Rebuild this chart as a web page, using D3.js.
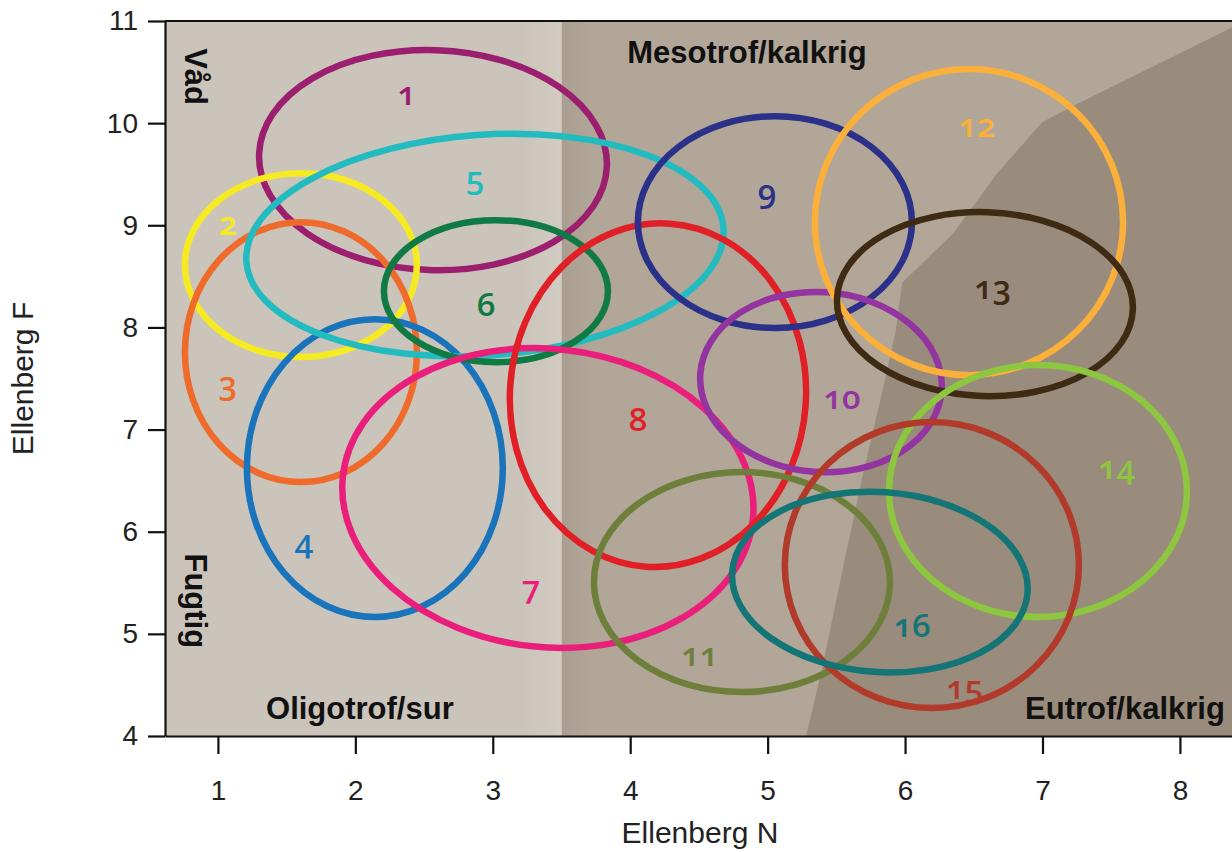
<!DOCTYPE html>
<html>
<head>
<meta charset="utf-8">
<script src="https://cdn.jsdelivr.net/npm/d3@7"></script>
<style>
  html, body { margin: 0; padding: 0; background: #fff; }
  svg { display: block; }
  .tick text { font-family: "Liberation Sans", Arial, sans-serif; font-size: 28px; fill: #222; }
  .zone { font-family: "Liberation Sans", Arial, sans-serif; font-weight: bold; font-size: 31px; fill: #111; }
  .num { font-family: "Open Sans", sans-serif; font-weight: 600; font-size: 33px; font-variant-numeric: oldstyle-nums; }
  .title { font-family: "Liberation Sans", Arial, sans-serif; font-size: 30px; fill: #222; }
</style>
</head>
<body>
<svg id="chart" width="1232" height="852"></svg>
<script>
// ======================================================================
// DATA
// ======================================================================

var ids    = ["1", "2", "3", "4", "5", "6", "7", "8", "9", "10", "11", "12", "13", "14", "15", "16"];
var colors = ["#9b1f6e", "#f6eb22", "#ef6b2b", "#1a74bb", "#22bcc0", "#0f7a43", "#ea1f7c", "#e11f26",
              "#2b3088", "#9334a0", "#6d7f3a", "#fbb03b", "#3f2a14", "#8dc63f", "#b23a2a", "#137576"];

// ellipse centres (Ellenberg N, Ellenberg F), half widths and tilt in degrees
var centreN = [2.565, 1.604, 1.604, 2.142, 2.943, 3.023, 3.401, 4.202, 5.053, 5.388, 4.813, 6.465, 6.581, 6.967, 6.195, 5.817];
var centreF = [9.638, 8.610, 7.758, 6.623, 8.806, 8.355, 6.330, 7.337, 9.031, 7.465, 5.507, 9.031, 8.228, 6.398, 5.673, 5.507];
var spreadN = [1.266, 0.844, 0.844, 0.931, 1.740, 0.815, 1.500, 1.077, 0.997, 0.880, 1.077, 1.121, 1.077, 1.084, 1.070, 1.077];
var spreadF = [1.077, 0.900, 1.272, 1.458, 1.080, 0.695, 1.460, 1.683, 1.037, 0.881, 1.077, 1.498, 0.900, 1.233, 1.400, 0.881];
var tilt    = [2, 0, 0, 0, -4, 0, 6, 4, 0, 4, 0, 0, 2, 0, 0, 4];

// where the numbers sit
var labelN = [2.375, 1.073, 1.073, 1.626, 2.870, 2.950, 3.278, 4.056, 4.995, 5.541, 4.507, 6.523, 6.639, 7.541, 6.435, 6.050];
var labelF = [10.303, 9.031, 7.465, 5.918, 9.471, 8.238, 5.468, 7.112, 9.344, 7.328, 4.803, 9.990, 8.404, 6.642, 4.489, 5.096];

// background zones
var mesoStartN = 3.5;
var eutrofN = [5.28, 5.40, 5.55, 5.69, 5.82, 5.93, 5.98, 6.35, 6.67, 7.00, 7.27, 8.40, 8.40];
var eutrofF = [4.00, 4.68, 5.66, 6.54, 7.29, 7.95, 8.44, 8.92, 9.51, 10.01, 10.20, 10.95, 4.00];

var xTicks = [1, 2, 3, 4, 5, 6, 7, 8];
var yTicks = [4, 5, 6, 7, 8, 9, 10, 11];

(function() {
    // ======================================================================
    // SCALES
    // ======================================================================

    var svg = d3.select("#chart");
    var plotLeft = 165, plotTop = 21, plotBottom = 736;
    var x = d3.scaleLinear().domain([0.615, 8.4]).range([plotLeft, plotLeft + 7.785 * 137.43]);
    var y = d3.scaleLinear().domain([4, 11]).range([plotBottom, plotTop]);
    var xMin = x.domain()[0], xMax = x.domain()[1];

    // ======================================================================
    // BACKGROUND
    // ======================================================================

    // soft shading on both sides of the oligotrof / mesotrof border
    var defs = svg.append("defs");
    var lightGrad = defs.append("linearGradient").attr("id", "lightGrad")
        .attr("gradientUnits", "userSpaceOnUse")
        .attr("x1", x(mesoStartN) - 40).attr("x2", x(mesoStartN)).attr("y1", 0).attr("y2", 0);
    lightGrad.append("stop").attr("offset", 0).attr("stop-color", "#cbc4ba");
    lightGrad.append("stop").attr("offset", 1).attr("stop-color", "#d1cbc2");
    var midGrad = defs.append("linearGradient").attr("id", "midGrad")
        .attr("gradientUnits", "userSpaceOnUse")
        .attr("x1", x(mesoStartN)).attr("x2", x(mesoStartN) + 30).attr("y1", 0).attr("y2", 0);
    midGrad.append("stop").attr("offset", 0).attr("stop-color", "#a99e90");
    midGrad.append("stop").attr("offset", 1).attr("stop-color", "#b1a697");

    var bg = svg.append("g");
    bg.append("rect")
        .attr("x", x(xMin)).attr("y", y(11))
        .attr("width", x(mesoStartN) - x(xMin)).attr("height", y(4) - y(11))
        .attr("fill", "url(#lightGrad)");
    bg.append("rect")
        .attr("x", x(mesoStartN)).attr("y", y(11))
        .attr("width", x(xMax) - x(mesoStartN)).attr("height", y(4) - y(11))
        .attr("fill", "url(#midGrad)");

    var zonePts = eutrofN.map(function(n, i) { return [n, eutrofF[i]]; });
    bg.append("path")
        .datum(zonePts)
        .attr("d", d3.line().x(function(d) { return x(d[0]); }).y(function(d) { return y(d[1]); }))
        .attr("fill", "#9a8c7c");

    // zone names
    svg.append("text").attr("class", "zone")
        .attr("x", x(4.849)).attr("y", y(10.587)).attr("text-anchor", "middle")
        .text("Mesotrof/kalkrig");
    svg.append("text").attr("class", "zone")
        .attr("x", x(2.033)).attr("y", y(4.17)).attr("text-anchor", "middle")
        .text("Oligotrof/sur");
    svg.append("text").attr("class", "zone")
        .attr("x", x(8.327)).attr("y", y(4.17)).attr("text-anchor", "end")
        .text("Eutrof/kalkrig");
    svg.append("text").attr("class", "zone")
        .attr("transform", "translate(" + x(0.76) + "," + y(10.734) + ") rotate(90)")
        .text("Våd");
    svg.append("text").attr("class", "zone")
        .attr("transform", "translate(" + x(0.76) + "," + y(5.787) + ") rotate(90)")
        .text("Fugtig");

    // ======================================================================
    // ELLIPSES
    // ======================================================================

    var groups = ids.map(function(id, i) {
        return { id: id, color: colors[i], n: centreN[i], f: centreF[i],
                 sn: spreadN[i], sf: spreadF[i], tilt: tilt[i], ln: labelN[i], lf: labelF[i] };
    });

    svg.append("g").selectAll("ellipse")
        .data(groups)
        .enter().append("ellipse")
        .attr("cx", function(d) { return x(d.n); })
        .attr("cy", function(d) { return y(d.f); })
        .attr("rx", function(d) { return x(d.n + d.sn) - x(d.n); })
        .attr("ry", function(d) { return y(d.f - d.sf) - y(d.f); })
        .attr("transform", function(d) { return "rotate(" + d.tilt + "," + x(d.n) + "," + y(d.f) + ")"; })
        .attr("fill", "none")
        .attr("stroke", function(d) { return d.color; })
        .attr("stroke-width", 6.5);

    svg.append("g").selectAll("text")
        .data(groups)
        .enter().append("text")
        .attr("class", "num")
        .attr("x", function(d) { return x(d.ln); })
        .attr("y", function(d) { return y(d.lf); })
        .attr("text-anchor", "middle")
        .attr("dominant-baseline", "central")
        .attr("fill", function(d) { return d.color; })
        .text(function(d) { return d.id; });

    // ======================================================================
    // AXES
    // ======================================================================

    var yAxis = svg.append("g")
        .attr("transform", "translate(" + plotLeft + ",0)")
        .call(d3.axisLeft(y).tickValues(yTicks).tickFormat(d3.format("d"))
            .tickSize(17).tickSizeOuter(0).tickPadding(10));
    var xAxis = svg.append("g")
        .attr("transform", "translate(0," + plotBottom + ")")
        .call(d3.axisBottom(x).tickValues(xTicks).tickFormat(d3.format("d"))
            .tickSize(18).tickSizeOuter(0).tickPadding(26));
    [xAxis, yAxis].forEach(function(a) {
        a.selectAll("path, line").attr("stroke", "#111").attr("stroke-width", 2.2);
    });

    // frame line along the top
    svg.append("line")
        .attr("x1", x(xMin)).attr("x2", x(xMax))
        .attr("y1", y(11)).attr("y2", y(11))
        .attr("stroke", "#111").attr("stroke-width", 2.2);

    svg.append("text").attr("class", "title")
        .attr("x", (x(xMin) + x(xMax)) / 2).attr("y", 843)
        .attr("text-anchor", "middle")
        .text("Ellenberg N");
    svg.append("text").attr("class", "title")
        .attr("transform", "translate(33," + (y(4) + y(11)) / 2 + ") rotate(-90)")
        .attr("text-anchor", "middle")
        .text("Ellenberg F");
})();
</script>
</body>
</html>
